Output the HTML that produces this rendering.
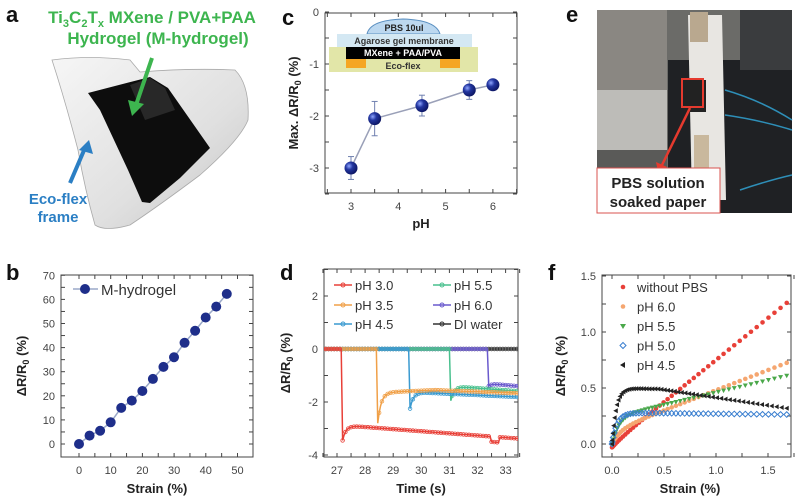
<!DOCTYPE html>
<html><head><meta charset="utf-8"><style>
html,body{margin:0;padding:0;background:#fff}
svg{display:block;font-family:"Liberation Sans","DejaVu Sans",sans-serif}
.t{font-size:11px;fill:#444}
.ax{font-size:13px;font-weight:bold;fill:#222}
.lt{font-size:22px;font-weight:bold;fill:#111}
</style></head><body>
<svg id="s" width="800" height="499" viewBox="0 0 800 499" xmlns="http://www.w3.org/2000/svg">
<defs>
<radialGradient id="ball" cx="0.35" cy="0.35" r="0.7"><stop offset="0" stop-color="#8fa6ff"/><stop offset="0.4" stop-color="#2336a0"/><stop offset="1" stop-color="#0b1460"/></radialGradient>
<linearGradient id="frm" x1="0" y1="0" x2="1" y2="1"><stop offset="0" stop-color="#f6f6f6"/><stop offset="0.6" stop-color="#e0e0e0"/><stop offset="1" stop-color="#c4c4c4"/></linearGradient>
</defs>
<!-- panel a -->
<text x="6" y="22" class="lt">a</text>
<text x="152" y="23" text-anchor="middle" style="font-size:17px;font-weight:bold;fill:#3db54f">Ti<tspan font-size="11" dy="4">3</tspan><tspan dy="-4">C</tspan><tspan font-size="11" dy="4">2</tspan><tspan dy="-4">T</tspan><tspan font-size="11" dy="4">x</tspan><tspan dy="-4"> MXene / PVA+PAA</tspan></text>
<text x="158" y="44" text-anchor="middle" style="font-size:17px;font-weight:bold;fill:#3db54f">Hydrogel (M-hydrogel)</text>
<path d="M52,60 Q90,55 130,60 L140,72 Q190,68 235,70 Q250,85 248,120 Q240,140 200,175 Q160,205 130,225 Q105,232 95,225 Q85,190 78,150 Q65,100 52,60 Z" fill="url(#frm)" stroke="#aaa" stroke-width="0.8"/>
<polygon points="88,93 150,77 168,88 210,148 180,178 150,203 142,202 128,170 100,110" fill="#0d0d0d"/>
<polygon points="130,85 150,78 165,88 175,110 145,120" fill="#3a3a3a" opacity="0.6"/>
<line x1="152" y1="58" x2="136" y2="105" stroke="#3db54f" stroke-width="4"/>
<polygon points="128,100 144,104 132,116" fill="#3db54f"/>
<line x1="70" y1="183" x2="85" y2="148" stroke="#2b7fc4" stroke-width="4"/>
<polygon points="79,150 93,154 89,140" fill="#2b7fc4"/>
<text x="58" y="204" text-anchor="middle" style="font-size:15px;font-weight:bold;fill:#2b7fc4">Eco-flex</text>
<text x="58" y="222" text-anchor="middle" style="font-size:15px;font-weight:bold;fill:#2b7fc4">frame</text>
<!-- panel e -->
<text x="566" y="22" class="lt">e</text>
<rect x="597" y="10" width="195" height="203" fill="#6b6b68"/>
<rect x="597" y="10" width="70" height="80" fill="#8a8782"/>
<rect x="597" y="90" width="70" height="60" fill="#bdbcb8"/>
<rect x="597" y="150" width="70" height="63" fill="#5a5a58"/>
<rect x="668" y="60" width="124" height="153" fill="#1f2124"/>
<rect x="740" y="10" width="52" height="60" fill="#3a3c3e"/>
<polygon points="688,15 722,15 726,200 692,200" fill="#e8e6e2"/>
<rect x="690" y="12" width="18" height="30" fill="#b9a88f"/>
<rect x="694" y="135" width="15" height="35" fill="#c9b89d"/>
<rect x="684" y="80" width="22" height="32" fill="#222"/>
<rect x="682" y="79" width="21" height="28" fill="none" stroke="#e53a2e" stroke-width="2"/>
<path d="M725,90 Q760,100 792,120 M725,115 Q760,120 792,130 M740,190 Q770,180 792,175" stroke="#2e8fb8" stroke-width="1.5" fill="none"/>
<line x1="690" y1="108" x2="662" y2="165" stroke="#e53a2e" stroke-width="2.5"/>
<polygon points="656,162 667,167 658,172" fill="#e53a2e"/>
<rect x="597" y="168" width="123" height="45" fill="#fff" stroke="#d9534f" stroke-width="1"/>
<text x="658" y="188" text-anchor="middle" style="font-size:15px;font-weight:bold;fill:#222">PBS solution</text>
<text x="658" y="207" text-anchor="middle" style="font-size:15px;font-weight:bold;fill:#222">soaked paper</text>
<!-- panel c -->
<text x="282" y="25" class="lt">c</text>
<rect x="325" y="13" width="192" height="180" fill="none" stroke="#444" stroke-width="1"/>
<g id="cax"></g>
<path d="M367,34 Q370,20 403,19 Q436,20 440,34 Z" fill="#bcd8f0" stroke="#5a8fc0"/>
<text x="404" y="31" text-anchor="middle" style="font-size:9px;font-weight:bold;fill:#222">PBS 10ul</text>
<rect x="337" y="34" width="135" height="13" fill="#d4e8f3"/>
<text x="404" y="44" text-anchor="middle" style="font-size:9px;font-weight:bold;fill:#333">Agarose gel membrane</text>
<rect x="329" y="47" width="149" height="25" fill="#e2e6a8"/>
<rect x="346" y="47" width="114" height="12" fill="#000"/>
<text x="403" y="56" text-anchor="middle" style="font-size:9px;font-weight:bold;fill:#fff">MXene + PAA/PVA</text>
<rect x="346" y="59" width="20" height="9" fill="#f5a623"/>
<rect x="440" y="59" width="20" height="9" fill="#f5a623"/>
<text x="403" y="69" text-anchor="middle" style="font-size:9px;font-weight:bold;fill:#333">Eco-flex</text>
<text x="421" y="228" text-anchor="middle" class="ax">pH</text>
<text transform="translate(298,103) rotate(-90)" text-anchor="middle" class="ax">Max. ΔR/R<tspan font-size="9" dy="3">0</tspan><tspan dy="-3"> (%)</tspan></text>
<!-- panel b -->
<text x="6" y="280" class="lt">b</text>
<rect x="61" y="275" width="192" height="182" fill="none" stroke="#444"/>
<g id="bax"></g>
<text x="157" y="493" text-anchor="middle" class="ax">Strain (%)</text>
<text transform="translate(26,366) rotate(-90)" text-anchor="middle" class="ax">ΔR/R<tspan font-size="9" dy="3">0</tspan><tspan dy="-3"> (%)</tspan></text>
<!-- panel d -->
<text x="280" y="280" class="lt">d</text>
<rect x="324" y="269" width="194" height="188" fill="none" stroke="#444"/>
<g id="dax"></g>
<text x="421" y="493" text-anchor="middle" class="ax">Time (s)</text>
<text transform="translate(290,363) rotate(-90)" text-anchor="middle" class="ax">ΔR/R<tspan font-size="9" dy="3">0</tspan><tspan dy="-3"> (%)</tspan></text>
<!-- panel f -->
<text x="548" y="280" class="lt">f</text>
<rect x="602" y="275" width="189" height="182" fill="none" stroke="#444"/>
<g id="fax"></g>
<text x="690" y="493" text-anchor="middle" class="ax">Strain (%)</text>
<text transform="translate(565,366) rotate(-90)" text-anchor="middle" class="ax">ΔR/R<tspan font-size="9" dy="3">0</tspan><tspan dy="-3"> (%)</tspan></text>
</svg>
<script>
var NS="http://www.w3.org/2000/svg",S=document.getElementById('s');
function el(t,a,p){var e=document.createElementNS(NS,t);for(var k in a)e.setAttribute(k,a[k]);(p||S).appendChild(e);return e}
function txt(x,y,s,a,p){var e=el('text',Object.assign({x:x,y:y,'class':'t'},a||{}),p);e.textContent=s;return e}
function axes(g,xs,ys,xl,xr,yt,yb){g=document.getElementById(g);
 xs.forEach(function(v){el('line',{x1:v[0],y1:yb,x2:v[0],y2:yb-4,stroke:'#444'},g);el('line',{x1:v[0],y1:yt,x2:v[0],y2:yt+4,stroke:'#444'},g);if(v[1]!=null)txt(v[0],yb+17,v[1],{'text-anchor':'middle'},g)});
 ys.forEach(function(v){el('line',{x1:xl,y1:v[0],x2:xl+4,y2:v[0],stroke:'#444'},g);el('line',{x1:xr,y1:v[0],x2:xr-4,y2:v[0],stroke:'#444'},g);if(v[1]!=null)txt(xl-6,v[0]+4,v[1],{'text-anchor':'end'},g)});}
// b
var bx=function(v){return 79+v*3.17},by=function(v){return 444-v*2.41};
var xs=[],ys=[];for(var i=0;i<=50;i+=5)xs.push([bx(i),i%10?null:i]);for(i=0;i<=70;i+=5)ys.push([by(i),i%10?null:i]);
axes('bax',xs,ys,61,253,275,457);
var bd=[0,3.5,5.5,9,15,18,22,27,32,36,42,47,52.5,57,62.3],pts=bd.map(function(v,i){return bx(i*3.33)+','+by(v)}).join(' ');
el('polyline',{points:pts,fill:'none',stroke:'#9aa8c8','stroke-width':1.5});
bd.forEach(function(v,i){el('circle',{cx:bx(i*3.33),cy:by(v),r:5,fill:'#1e2e8a'})});
el('line',{x1:73,y1:289,x2:98,y2:289,stroke:'#9aa8c8','stroke-width':1.5});el('circle',{cx:85,cy:289,r:5,fill:'#1e2e8a'});
txt(101,295,'M-hydrogel',{style:'font-size:15px;fill:#333'});
// c
var cx=function(v){return 351+(v-3)*47.3},cy=function(v){return 12-v*52};
xs=[];ys=[];for(i=2.5;i<=6.5;i+=0.5)xs.push([cx(i),(i%1)?null:i]);for(i=0;i>=-3.5;i-=0.5)ys.push([cy(i),(i%1)?null:i]);
axes('cax',xs,ys,325,517,13,193);
var cd=[[3,-3,0.22],[3.5,-2.05,0.33],[4.5,-1.8,0.2],[5.5,-1.5,0.18],[6,-1.4,0.05]];
el('polyline',{points:cd.map(function(d){return cx(d[0])+','+cy(d[1])}).join(' '),fill:'none',stroke:'#9aa0b8','stroke-width':1.5});
cd.forEach(function(d){var x=cx(d[0]),y1=cy(d[1]+d[2]),y2=cy(d[1]-d[2]);el('line',{x1:x,y1:y1,x2:x,y2:y2,stroke:'#7080b0'});el('line',{x1:x-3,y1:y1,x2:x+3,y2:y1,stroke:'#7080b0'});el('line',{x1:x-3,y1:y2,x2:x+3,y2:y2,stroke:'#7080b0'});el('circle',{cx:x,cy:cy(d[1]),r:6.5,fill:'url(#ball)'})});
// d
var dx=function(v){return 337+(v-27)*28.1},dy=function(v){return 349-v*26.5};
xs=[];for(i=26.5;i<=33.5;i+=0.5)xs.push([dx(i),(i%1)?null:i]);
ys=[];for(i=3;i>=-4;i-=1)ys.push([dy(i),(i%2)?null:i]);
axes('dax',xs,ys,324,518,269,457);
var clip=el('clipPath',{id:'dc'});el('rect',{x:324,y:269,width:194,height:188},clip);
var gd=el('g',{'clip-path':'url(#dc)'});
function ser(t0,min,lv,col){var p=[];for(var t=26.5;t<=33.5;t+=0.05){var v;if(t<t0)v=0;else if(t<t0+0.05)v=min;else{var k=(t-t0);v=lv(k,t)+(min-lv(k,t))*Math.exp(-k/0.12)}p.push([dx(t),dy(v)])}
 el('polyline',{points:p.map(function(a){return a.join(',')}).join(' '),fill:'none',stroke:col,'stroke-width':1.5},gd);
 for(var j=0;j<p.length;j+=2)el('circle',{cx:p[j][0],cy:p[j][1],r:1.8,fill:'none',stroke:col,'stroke-width':0.8},gd);}
ser(99,0,function(){return 0},'#333');
ser(32.4,-1.4,function(k){return -1.3-0.1*k},'#6a5acd');
ser(31.05,-1.95,function(k){return -1.4-0.08*k},'#49c08e');
ser(29.6,-2.25,function(k){return -1.62-0.05*k},'#3a9ad0');
ser(28.45,-2.8,function(k){return -1.65+0.05*Math.min(k,2)-0.04*Math.max(0,k-2)},'#f0a048');
ser(27.2,-3.45,function(k,t){return -2.88-0.08*k+(Math.abs(t-32.65)<0.15?-0.2:0)},'#e84038');
var lg=[['pH 3.0','#e84038',334,285],['pH 3.5','#f0a048',334,305],['pH 4.5','#3a9ad0',334,324],['pH 5.5','#49c08e',433,285],['pH 6.0','#6a5acd',433,305],['DI water','#333',433,324]];
lg.forEach(function(l){el('line',{x1:l[2],y1:l[3],x2:l[2]+18,y2:l[3],stroke:l[1],'stroke-width':1.5});el('circle',{cx:l[2]+9,cy:l[3],r:2,fill:'none',stroke:l[1]});txt(l[2]+21,l[3]+5,l[0],{style:'font-size:13px;fill:#333'})});
// f
var fx=function(v){return 612+v*104},fy=function(v){return 444-v*112};
xs=[];ys=[];for(i=0;i<=1.75;i+=0.25)xs.push([fx(i),(Math.round(i*4)%2)?null:i.toFixed(1)]);for(i=0;i<=1.5;i+=0.25)ys.push([fy(i),(Math.round(i*4)%2)?null:i.toFixed(1)]);
axes('fax',xs,ys,602,791,275,457);
function fs(f,col,kind,n){for(var j=0;j<=n;j++){var x=1.68*Math.pow(j/n,1.6);var X=fx(x),Y=fy(f(x));
 if(kind=='o')el('circle',{cx:X,cy:Y,r:2.3,fill:col});else if(kind=='d')el('polygon',{points:(X)+','+(Y-2.8)+' '+(X+2.8)+','+Y+' '+X+','+(Y+2.8)+' '+(X-2.8)+','+Y,fill:'none',stroke:col,'stroke-width':1});
 else if(kind=='v')el('polygon',{points:(X-2.5)+','+(Y-2)+' '+(X+2.5)+','+(Y-2)+' '+X+','+(Y+2.5),fill:col});
 else el('polygon',{points:(X-2.5)+','+Y+' '+(X+2)+','+(Y-2.5)+' '+(X+2)+','+(Y+2.5),fill:col});}}
fs(function(x){return 0.75*x-0.03*Math.exp(-x*8)},'#e84038','o',45);
fs(function(x){return 0.12*(1-Math.exp(-x*12))+0.36*x},'#f5a670','o',45);
fs(function(x){return 0.24*(1-Math.exp(-x*15))+0.22*x},'#4aa84a','v',45);
fs(function(x){return 0.28*(1-Math.exp(-x*20))-0.01*x},'#3a7fd0','d',45);
fs(function(x){return 0.5*(1-Math.exp(-x*25))-0.12*Math.max(0,x-0.45)-0.02*x},'#222','l',55);
var fl=[['without PBS','#e84038','o',287],['pH 6.0','#f5a670','o',306.5],['pH 5.5','#4aa84a','v',326],['pH 5.0','#3a7fd0','d',345.5],['pH 4.5','#222','l',365]];
fl.forEach(function(l){var X=623,Y=l[3];if(l[2]=='o')el('circle',{cx:X,cy:Y,r:2.3,fill:l[1]});else if(l[2]=='d')el('polygon',{points:X+','+(Y-3)+' '+(X+3)+','+Y+' '+X+','+(Y+3)+' '+(X-3)+','+Y,fill:'none',stroke:l[1]});else if(l[2]=='v')el('polygon',{points:(X-3)+','+(Y-2)+' '+(X+3)+','+(Y-2)+' '+X+','+(Y+3),fill:l[1]});else el('polygon',{points:(X-3)+','+Y+' '+(X+2)+','+(Y-3)+' '+(X+2)+','+(Y+3),fill:l[1]});
 txt(637,Y+5,l[0],{style:'font-size:13px;fill:#333'})});
</script>
</body></html>
